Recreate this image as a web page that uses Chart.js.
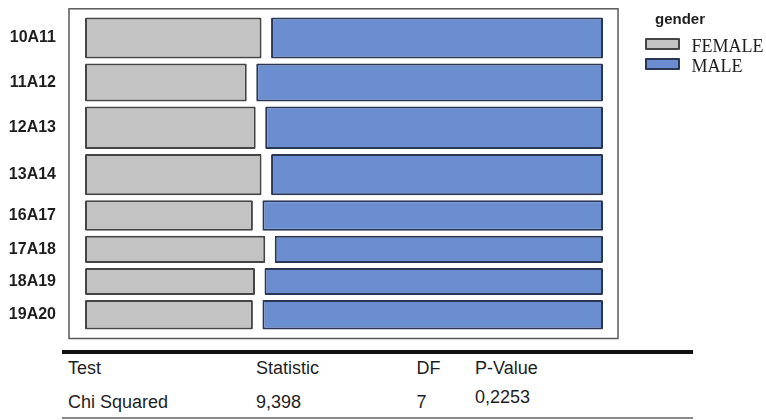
<!DOCTYPE html>
<html>
<head>
<meta charset="utf-8">
<script src="https://cdn.jsdelivr.net/npm/chart.js@4.4.1/dist/chart.umd.min.js"></script>
<style>
    body { margin: 0; background: #fff; }
    #lienzo { position: relative; width: 766px; height: 420px; overflow: hidden; font-family: "Liberation Sans", Arial, sans-serif; color: #1e1e1e; }
    #grafico { position: absolute; left: 0; top: 0; }
    .abs { position: absolute; white-space: nowrap; }
    .leyenda-titulo { font-weight: bold; font-size: 15px; line-height: 15px; }
    .leyenda-caja { width: 35px; height: 12px; box-sizing: border-box; border: 2px solid; border-radius: 1px; }
    .leyenda-texto { font-family: "Liberation Serif", "Times New Roman", serif; font-size: 18px; line-height: 18px; }
    .tabla { font-size: 18px; line-height: 18px; }
</style>
</head>
<body>
<div id="lienzo">
    <canvas id="grafico" width="766" height="345"></canvas>
    <div id="leyenda"></div>
    <div id="tabla"></div>
</div>
<script>
// Datos: conteo por grupo y género
var grupos = ['10A11', '11A12', '12A13', '13A14', '16A17', '17A18', '18A19', '19A20'];
var femenino = [42, 36, 42, 42, 31, 30, 28, 30];
var masculino = [78, 76, 82, 78, 62, 54, 55, 60];

// Prueba chi cuadrado
var encabezados = ['Test', 'Statistic', 'DF', 'P-Value'];
var resultado = ['Chi Squared', '9,398', '7', '0,2253'];

var colores = {
    FEMALE: { fondo: '#c3c3c3', borde: '#454545' },
    MALE: { fondo: '#6b8ed1', borde: '#2a3654' }
};

// Totales y posiciones acumuladas de cada fila
var totales = grupos.map(function (g, i) { return femenino[i] + masculino[i]; });
var inicios = [];
var acumulado = 0;
totales.forEach(function (t) { inicios.push(acumulado); acumulado += t; });
var centros = totales.map(function (t, i) { return inicios[i] + t / 2; });

var ESPACIO_FILA = 5;
var ESPACIO_COL = 9.5;

// Ajusta el alto de cada barra al tamaño de su fila (gráfico de mosaico)
var mosaico = {
    id: 'mosaico',
    afterDatasetsUpdate: function (chart) {
        var y = chart.scales.y;
        chart.getSortedVisibleDatasetMetas().forEach(function (meta) {
            meta.data.forEach(function (barra, i) {
                var arriba = y.getPixelForValue(inicios[i]);
                var abajo = y.getPixelForValue(inicios[i] + totales[i]);
                barra.y = (arriba + abajo) / 2;
                barra.height = Math.abs(abajo - arriba) - ESPACIO_FILA;
                if (meta.index === 0) barra.x -= ESPACIO_COL / 2;
                else barra.base += ESPACIO_COL / 2;
            });
        });
    },
    beforeDatasetsDraw: function (chart) {
        // Marco alrededor del mosaico
        var a = chart.chartArea;
        var ctx = chart.ctx;
        ctx.save();
        ctx.strokeStyle = '#5a5a5a';
        ctx.lineWidth = 1.5;
        ctx.strokeRect(a.left - 16, a.top - 6.2, a.width + 31, a.height + 12.7);
        ctx.restore();
    }
};

var ctx = document.getElementById('grafico').getContext('2d');
new Chart(ctx, {
    type: 'bar',
    data: {
        datasets: [{
            label: 'FEMALE',
            data: femenino.map(function (f, i) { return { y: centros[i], x: [0, f / totales[i]] }; }),
            backgroundColor: colores.FEMALE.fondo,
            borderColor: colores.FEMALE.borde
        }, {
            label: 'MALE',
            data: masculino.map(function (m, i) { return { y: centros[i], x: [femenino[i] / totales[i], 1] }; }),
            backgroundColor: colores.MALE.fondo,
            borderColor: colores.MALE.borde
        }]
    },
    options: {
        indexAxis: 'y',
        responsive: false,
        animation: false,
        layout: { padding: { left: 0, right: 163, top: 15, bottom: 13 } },
        datasets: {
            bar: { borderWidth: 2, borderSkipped: false, borderRadius: 1, grouped: false }
        },
        scales: {
            x: { type: 'linear', display: false, min: 0, max: 1 },
            y: {
                type: 'linear',
                reverse: true,
                offset: false,
                min: 0,
                max: acumulado,
                grid: { display: false, drawTicks: false },
                border: { display: false },
                afterFit: function (s) {
                    s.width = 85;
                    // sin relleno extra arriba/abajo por el padding de las etiquetas
                    s.paddingTop = 0;
                    s.paddingBottom = 0;
                },
                afterBuildTicks: function (s) {
                    s.ticks = centros.map(function (c) { return { value: c }; });
                },
                ticks: {
                    autoSkip: false,
                    padding: 29,
                    color: '#1e1e1e',
                    font: { family: 'Liberation Sans', size: 16, weight: 'bold' },
                    callback: function (v, i) { return grupos[i]; }
                }
            }
        },
        plugins: {
            legend: { display: false },
            tooltip: { enabled: false }
        }
    },
    plugins: [mosaico]
});

// Leyenda
var leyenda = document.getElementById('leyenda');
var html = '<div class="abs leyenda-titulo" style="left:655px;top:10.6px">gender</div>';
['FEMALE', 'MALE'].forEach(function (nombre, i) {
    var top = 37.7 + i * 20;
    html += '<div class="abs leyenda-caja" style="left:645px;top:' + top + 'px;background:' + colores[nombre].fondo + ';border-color:' + colores[nombre].borde + '"></div>';
    html += '<div class="abs leyenda-texto" style="left:691.5px;top:' + (top - 1.1) + 'px">' + nombre + '</div>';
});
leyenda.innerHTML = html;

// Tabla de la prueba
var columnas = [68, 256, 416.5, 475];
var tabla = document.getElementById('tabla');
var t = '<div class="abs" style="left:62px;top:350px;width:631px;height:3.5px;background:#111"></div>';
t += '<div class="abs" style="left:62px;top:417px;width:631px;height:1.5px;background:#8a8a8a"></div>';
encabezados.forEach(function (txt, i) {
    t += '<div class="abs tabla" style="left:' + columnas[i] + 'px;top:358.8px">' + txt + '</div>';
});
resultado.forEach(function (txt, i) {
    var top = i === 3 ? 388 : 392.5;
    t += '<div class="abs tabla" style="left:' + columnas[i] + 'px;top:' + top + 'px">' + txt + '</div>';
});
tabla.innerHTML = t;
</script>
</body>
</html>
